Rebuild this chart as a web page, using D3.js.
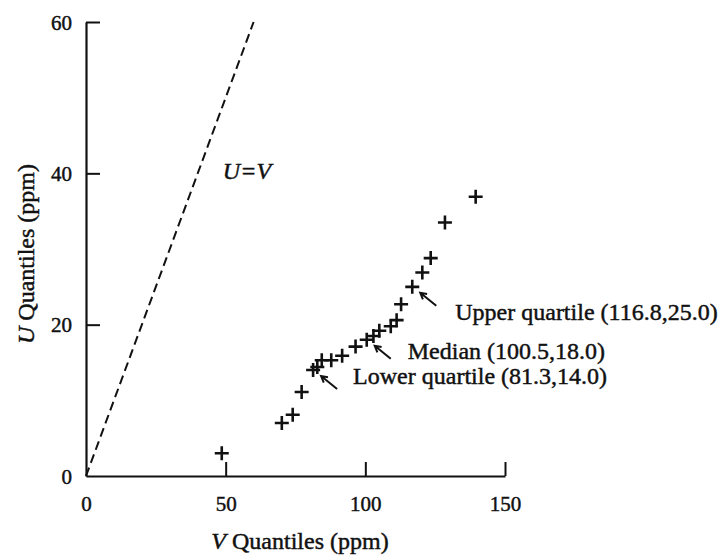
<!DOCTYPE html>
<html>
<head>
<meta charset="utf-8">
<script src="https://cdn.jsdelivr.net/npm/d3@7"></script>
<style>
  body { margin: 0; background: #fff; }
  svg { font-family: "Liberation Serif", "Times New Roman", serif; }
  .tick text { font-size: 21px; fill: #111; stroke: #111; stroke-width: 0.45px; }
  .title { font-size: 24px; fill: #111; stroke: #111; stroke-width: 0.45px; }
  .note { font-size: 24px; fill: #111; stroke: #111; stroke-width: 0.45px; }
</style>
</head>
<body>
<svg width="721" height="559"></svg>
<script>
// quantile pairs (ppm)
const vQuantiles = [48.6, 70.1, 74.0, 77.2, 81.3, 82.8, 84.4, 87.8, 91.7, 96.5, 100.5,
  102.9, 105.0, 109.1, 111.2, 112.8, 116.8, 120.4, 123.4, 128.5, 139.5];
const uQuantiles = [3.0, 7.0, 8.1, 11.1, 14.0, 14.4, 15.3, 15.3, 15.9, 17.1, 18.0,
  18.5, 19.2, 19.8, 20.6, 22.7, 25.0, 26.9, 28.8, 33.5, 36.9];

// annotated quantiles
const markNames = ["Lower quartile", "Median", "Upper quartile"];
const markV = [81.3, 100.5, 116.8];
const markU = [14.0, 18.0, 25.0];

const xTicks = [0, 50, 100, 150];
const yTicks = [0, 20, 40, 60];
const lineEnd = 60; // U=V line drawn up to this value

const svg = d3.select("svg");

const xScale = d3.scaleLinear().domain([0, 150]).range([86, 505]);
const yScale = d3.scaleLinear().domain([0, 60]).range([476, 22]);

// axes with inward ticks
const xAxis = svg.append("g")
  .attr("transform", `translate(0, ${yScale(0)})`)
  .call(d3.axisBottom(xScale).tickValues(xTicks).tickSizeInner(-14).tickSizeOuter(0).tickPadding(20));

const yAxis = svg.append("g")
  .attr("transform", `translate(${xScale(0)}, 0)`)
  .call(d3.axisLeft(yScale).tickValues(yTicks).tickSizeInner(-14).tickSizeOuter(0).tickPadding(14));

[xAxis, yAxis].forEach((a) => {
  a.attr("font-family", null).attr("font-size", null);
  a.select(".domain").attr("stroke", "#111").attr("stroke-width", 2.2);
  a.selectAll(".tick line").attr("stroke", "#111").attr("stroke-width", 2);
});
// hide ticks sitting on the other axis
xAxis.selectAll(".tick line").filter((d) => d === 0).remove();
yAxis.selectAll(".tick line").filter((d) => d === 0).remove();
yAxis.selectAll(".tick text").attr("dy", "0.34em");

// U = V reference line
svg.append("line")
  .attr("x1", xScale(0))
  .attr("y1", yScale(0))
  .attr("x2", xScale(lineEnd))
  .attr("y2", yScale(lineEnd))
  .attr("stroke", "#111")
  .attr("stroke-width", 2)
  .style("stroke-dasharray", "9, 5");

svg.append("text")
  .attr("class", "note")
  .attr("x", xScale(49))
  .attr("y", yScale(39.2))
  .attr("font-size", 21)
  .attr("font-style", "italic")
  .text("U=V");

// plus markers
const pts = vQuantiles.map((v, i) => ({ v: v, u: uQuantiles[i] }));
svg.append("g")
  .selectAll("path")
  .data(pts)
  .enter()
  .append("path")
  .attr("transform", (d) => `translate(${xScale(d.v)}, ${yScale(d.u)})`)
  .attr("d", "M-7,0H7M0,-7V7")
  .attr("stroke", "#111")
  .attr("stroke-width", 2.6)
  .attr("fill", "none");

// arrows + labels for quartiles
const labelShift = { "Lower quartile": [40, 14], "Median": [41, 19], "Upper quartile": [43, 33] };
const marks = markNames.map((n, i) => ({ name: n, v: markV[i], u: markU[i] }));

const notes = svg.append("g").selectAll("g").data(marks).enter().append("g");

notes.append("path")
  .attr("d", (d) => {
    const px = xScale(d.v), py = yScale(d.u);
    const hx = px + 8, hy = py + 6, tx = px + 24, ty = py + 19;
    const ang = Math.atan2(ty - hy, tx - hx);
    const w = 0.5, L = 7;
    const a1x = hx + L * Math.cos(ang - w), a1y = hy + L * Math.sin(ang - w);
    const a2x = hx + L * Math.cos(ang + w), a2y = hy + L * Math.sin(ang + w);
    return `M${tx},${ty}L${hx},${hy}M${a1x},${a1y}L${hx},${hy}L${a2x},${a2y}`;
  })
  .attr("stroke", "#111")
  .attr("stroke-width", 2)
  .attr("fill", "none");

notes.append("text")
  .attr("class", "note")
  .attr("x", (d) => xScale(d.v) + labelShift[d.name][0])
  .attr("y", (d) => yScale(d.u) + labelShift[d.name][1])
  .text((d) => `${d.name} (${d.v.toFixed(1)},${d.u.toFixed(1)})`);

// axis titles
const xTitle = svg.append("text")
  .attr("class", "title")
  .attr("x", 300)
  .attr("y", 549)
  .attr("text-anchor", "middle");
xTitle.append("tspan").attr("font-style", "italic").text("V");
xTitle.append("tspan").text(" Quantiles (ppm)");

const yTitle = svg.append("text")
  .attr("class", "title")
  .attr("transform", "translate(34, 254) rotate(-90)")
  .attr("text-anchor", "middle");
yTitle.append("tspan").attr("font-style", "italic").text("U");
yTitle.append("tspan").text(" Quantiles (ppm)");
</script>
</body>
</html>
